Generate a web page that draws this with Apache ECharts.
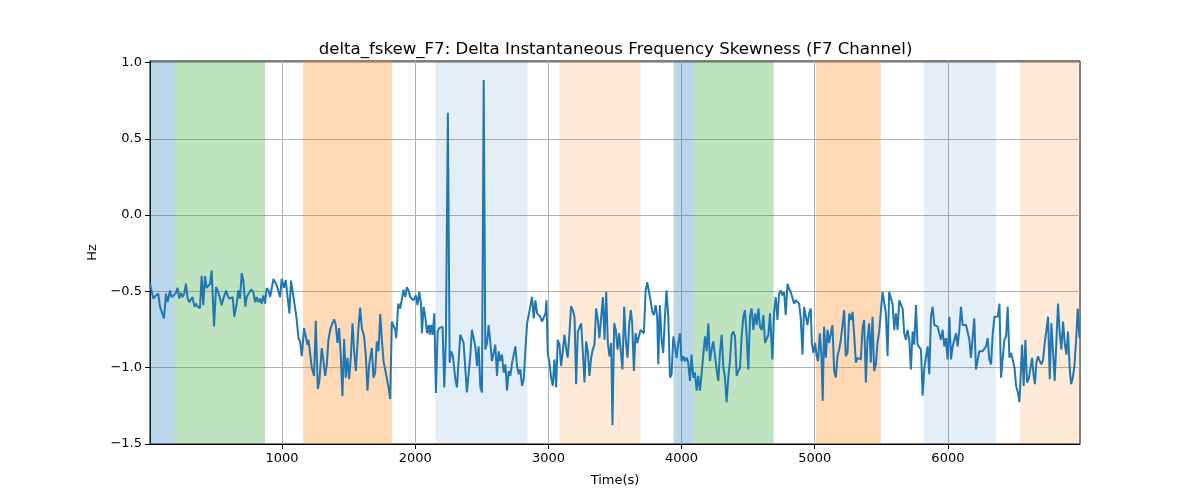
<!DOCTYPE html>
<html>
<head>
<meta charset="utf-8">
<script src="https://cdn.jsdelivr.net/npm/echarts@6/dist/echarts.min.js"></script>
<style>html,body{margin:0;padding:0;background:#fff}#c{width:1200px;height:500px}</style>
</head>
<body>
<div id="c"></div>
<script>
const times = [8,33,53,70,83,95,113,128,140,158,170,183,200,215,228,240,253,265,278,291,303,316,328,341,353,366,383,396,408,421,433,446,459,471,489,504,516,534,546,559,579,591,604,616,629,641,659,671,684,697,709,724,734,747,767,784,797,809,822,834,847,859,872,884,897,910,
935,960,985,997,1015,1027,1042,1055,1067,1077,1093,1110,1123,1135,1148,1165,1178,1190,1198,1210,1223,1240,1253,1268,1280,1298,1311,1323,1336,1348,1361,1373,1391,1403,1416,1428,1441,1453,1466,1478,1491,1503,1516,1529,1541,1554,1574,1586,1599,1616,1629,1641,1654,1674,1686,1699,1711,1724,1737,1749,1762,1774,1787,1799,1812,1824,1837,1850,
1857,1872,1887,1902,1912,1925,1937,1950,1962,1975,1987,2005,2017,2030,2043,2050,2063,2075,2088,2100,2108,2118,2130,2143,2155,2168,2180,2193,2205,2218,2230,2245,2258,2270,2283,2301,2313,2326,2338,2351,2363,2376,2388,2401,2413,2426,2439,2451,2464,2476,2489,2501,2514,2526,2539,2551,2564,2576,2589,2601,2614,2626,2639,2651,2664,2677,2689,2702,2714,2727,2739,2752,2764,2777,2789,
2802,2815,2827,2840,2852,2865,2877,2890,2902,2915,2927,2940,2952,2965,2978,2985,2995,3008,3020,3033,3045,3058,3070,3083,3095,3108,3120,3133,3145,3158,3170,3183,3196,3208,3221,3233,3246,3258,3271,3283,3296,3308,3321,3333,3346,3358,3371,3383,3396,3409,3421,3434,3446,3459,3471,3481,3494,3506,3519,3531,3544,3556,3569,3581,3594,3607,3619,3629,3642,3654,3667,3679,3692,3705,
3717,3730,3742,3755,3767,3780,3792,3805,3817,3825,3837,3850,3862,3875,3887,3900,3913,3925,3938,3950,3963,3975,3988,4000,4013,4025,4038,4050,4063,4075,4088,4100,4113,4125,4138,4150,4163,4176,4188,4201,4213,4226,4238,4251,4263,4276,4288,4301,4313,4326,4338,4351,4364,4376,4389,4401,4414,4426,4439,4451,4464,4476,4489,4501,4514,4526,4539,4552,4564,4577,4589,4602,4614,4627,4639,4652,4664,
4682,4695,4707,4720,4732,4745,4757,4770,4782,4795,4807,4820,4832,4845,4858,4870,4883,4895,4908,4920,4933,4945,4958,4970,4978,4990,5003,5015,5025,5038,5050,5060,5070,5083,5096,5108,5121,5133,5146,5158,5171,5183,5196,5208,5221,5233,5246,5259,5271,5284,5296,5309,5321,5334,5346,5359,5371,5384,5396,5409,5421,5434,5446,5459,5471,5484,5497,5509,5522,5534,5547,5559,5572,5584,5597,5609,
5622,5635,5647,5660,5672,5685,5697,5710,5722,5735,5747,5760,5772,5785,5798,5810,5823,5835,5848,5860,5873,5885,5898,5910,5923,5935,5948,5960,5973,5985,5998,6011,6023,6036,6048,6061,6073,6086,6098,6111,6123,6136,6148,6161,6173,6186,6198,6211,6224,6236,6249,6261,6274,6286,6299,6311,6324,6336,6349,6361,6374,6387,6399,6412,6424,6437,6449,6462,6474,6487,6500,6512,6525,6537,
6557,6569,6582,6594,6607,6619,6632,6644,6654,6664,6677,6690,6702,6715,6727,6740,6752,6765,6777,6790,6802,6815,6827,6840,6852,6865,6877,6890,6902,6915,6925,6938,6950,6963,6975,6988];

const values = [-0.45,-0.547,-0.526,-0.515,-0.60,-0.61,-0.677,-0.515,-0.57,-0.494,-0.537,-0.526,-0.515,-0.476,-0.547,-0.51,-0.537,-0.515,-0.45,-0.547,-0.57,-0.58,-0.537,-0.60,-0.58,-0.60,-0.61,-0.397,-0.59,-0.40,-0.476,-0.483,-0.45,-0.364,-0.73,-0.472,-0.494,-0.547,-0.59,-0.547,-0.494,-0.526,-0.547,-0.547,-0.537,-0.666,-0.58,-0.494,-0.547,-0.38,-0.43,-0.60,-0.537,-0.537,-0.487,-0.504,-0.57,-0.537,-0.57,-0.547,-0.58,-0.526,-0.58,-0.478,-0.494,-0.537,
-0.418,-0.461,-0.537,-0.418,-0.476,-0.425,-0.429,-0.644,-0.429,-0.429,-0.58,-0.687,-0.806,-0.828,-0.925,-0.741,-0.795,-0.849,-0.817,-0.806,-1.0,-1.054,-0.692,-1.14,-1.086,-0.871,-0.957,-1.054,-0.978,-0.817,-0.752,-0.72,-0.683,-0.72,-0.838,-0.741,-0.925,-1.187,-0.812,-1.065,-0.935,-1.075,-0.935,-0.709,-0.892,-1.022,-0.73,-0.606,-0.741,-0.795,-0.925,-1.151,-0.978,-0.871,-1.065,-1.032,-0.828,-0.892,-0.649,-0.817,-0.957,-1.011,-1.006,-1.129,-1.205,-0.698,-0.709,-0.752,
-0.806,-0.58,-0.612,-0.601,-0.489,-0.537,-0.472,-0.494,-0.537,-0.547,-0.558,-0.526,-0.59,-0.504,-0.58,-0.774,-0.601,-0.666,-0.774,-0.72,-0.784,-0.72,-0.784,-0.644,-1.166,-0.763,-0.741,-0.741,-0.731,-1.129,-0.817,0.67,-0.968,-0.892,-0.925,-1.075,-1.129,-1.129,-0.784,-0.774,-0.838,-0.838,-1.162,-1.172,-0.925,-0.752,-0.752,-0.86,-0.989,-0.86,-1.129,-1.162,0.886,-0.881,-0.838,-0.72,-0.838,-0.957,-0.903,-0.849,-1.054,-0.892,-0.957,-0.914,-1.032,-0.978,-1.151,-1.022,-1.054,-0.968,-0.968,-0.86,-0.989,-1.043,-1.011,
-1.119,-1.075,-0.881,-0.709,-0.655,-0.666,-0.537,-0.677,-0.558,-0.644,-0.644,-0.666,-0.698,-0.698,-0.644,-0.558,-0.903,-0.968,-1.065,-1.119,-0.946,-1.129,-0.817,-0.849,-0.989,-0.892,-0.784,-0.871,-0.935,-0.774,-0.597,-0.623,-0.666,-1.108,-0.763,-0.774,-0.709,-0.892,-1.097,-0.828,-0.892,-1.054,-0.935,-0.881,-0.849,-0.612,-0.687,-0.806,-0.795,-0.537,-0.817,-0.504,-0.838,-0.925,-0.838,-1.377,-0.709,-0.752,-0.881,-0.774,-0.774,-1.011,-0.601,-0.817,-0.935,-0.709,-0.623,-0.709,-1.022,-0.774,-0.838,-0.849,-0.752,-0.752,
-0.774,-0.494,-0.44,-0.45,-0.558,-0.634,-0.655,-0.59,-0.666,-0.978,-0.59,-0.817,-0.903,-0.666,-0.494,-0.666,-1.065,-1.043,-0.795,-0.86,-0.935,-0.838,-0.774,-0.957,-0.925,-0.957,-0.935,-0.968,-1.086,-0.914,-1.065,-1.032,-1.151,-1.054,-1.151,-1.043,-0.914,-0.795,-0.892,-0.709,-0.957,-0.881,-0.828,-0.828,-1.011,-1.086,-0.903,-0.784,-0.989,-1.065,-1.226,-1.065,-0.946,-0.784,-0.763,-0.795,-1.054,-1.022,-1.0,-0.795,-0.666,-0.623,-0.795,-1.011,-0.666,-0.612,-0.752,-0.644,-0.72,-0.612,-0.731,-0.752,-0.655,-0.838,-0.828,-0.784,-0.644,
-0.946,-0.634,-0.537,-0.687,-0.515,-0.494,-0.526,-0.504,-0.655,-0.45,-0.483,-0.504,-0.515,-0.58,-0.558,-0.547,-0.58,-0.677,-0.914,-0.601,-0.612,-0.72,-0.644,-0.612,-0.838,-0.903,-0.838,-0.925,-0.957,-0.774,-0.914,-1.216,-0.731,-0.935,-0.752,-0.838,-0.774,-0.72,-1.022,-1.065,-0.925,-0.881,-0.817,-0.806,-0.623,-0.925,-0.903,-0.644,-0.687,-0.634,-0.784,-0.968,-0.935,-0.946,-0.946,-0.741,-0.687,-1.097,-0.817,-0.709,-0.968,-0.666,-1.022,-0.978,-0.838,-0.763,-0.752,-0.504,-0.498,-0.644,-0.925,-0.504,-0.494,-0.58,-0.752,-0.644,
-0.752,-0.558,-0.547,-0.612,-0.774,-0.817,-0.752,-0.817,-1.011,-0.763,-0.849,-0.59,-0.849,-0.849,-0.881,-1.183,-1.0,-1.011,-0.86,-1.043,-0.666,-0.601,-0.72,-0.731,-0.731,-0.774,-0.817,-0.752,-0.86,-0.806,-0.946,-0.666,-0.946,-0.86,-0.849,-0.774,-0.86,-0.752,-0.601,-0.72,-0.709,-0.72,-0.709,-0.817,-0.935,-0.935,-0.677,-1.011,-0.946,-0.892,-0.903,-0.892,-0.881,-0.86,-0.806,-0.946,-0.978,-0.784,-0.666,-0.655,-0.666,-0.58,-1.065,-1.054,-0.817,-0.795,-0.601,-0.935,-0.903,-0.946,-1.0,-1.119,-1.162,-1.226,
-0.849,-1.119,-0.817,-1.097,-1.075,-1.075,-0.935,-1.054,-1.108,-0.968,-0.925,-0.957,-0.978,-0.946,-0.838,-0.752,-0.666,-1.075,-0.709,-0.709,-1.086,-1.097,-0.58,-0.774,-0.881,-0.698,-0.838,-0.914,-0.763,-1.011,-1.108,-1.065,-0.989,-0.817,-0.612,-0.806];

const xTicks = [1000,2000,3000,4000,5000,6000];
const yTicks = [-1.5,-1.0,-0.5,0.0,0.5,1.0];

const bandStart = [8,196,1158,2150,3083,3940,4090,5008,5820,6541];
const bandEnd   = [196,872,1827,2842,3692,4090,4692,5496,6361,6992];
const bandKind  = ['blue','green','orange','lightBlue','lightOrange','blue','green','orange','lightBlue','lightOrange'];

const kindColor = {
  blue: 'rgba(31,119,180,0.3)',
  green: 'rgba(44,160,44,0.3)',
  orange: 'rgba(255,127,14,0.3)',
  lightBlue: 'rgba(31,119,180,0.12)',
  lightOrange: 'rgba(255,127,14,0.16)'
};

const FONT = 'DejaVu Sans';
const chart = echarts.init(document.getElementById('c'), null, {renderer: 'canvas'});
const fmtY = v => v.toFixed(1).replace('-', '\u2212');
chart.setOption({
  animation: false,
  backgroundColor: '#fff',
  title: {
    text: 'delta_fskew_F7: Delta Instantaneous Frequency Skewness (F7 Channel)',
    left: 610.5, top: 36, textAlign: 'center',
    textStyle: {fontFamily: FONT, fontSize: 16.6, fontWeight: 'normal', color: '#000'}
  },
  grid: {left: 150, right: 120, top: 61, bottom: 56, show: true, borderColor: '#000', borderWidth: 1, backgroundColor: 'transparent'},
  xAxis: {
    type: 'value', min: 8, max: 6992,
    name: 'Time(s)', nameLocation: 'middle', nameGap: 30,
    nameTextStyle: {fontFamily: FONT, fontSize: 13, color: '#000'},
    axisLine: {show: true, onZero: false, lineStyle: {color: '#000', width: 1}},
    axisTick: {show: true, length: 5, customValues: xTicks, lineStyle: {color: '#000'}},
    axisLabel: {fontFamily: FONT, fontSize: 13, color: '#000', margin: 8, customValues: xTicks,
      formatter: v => String(v)},
    splitLine: {show: true, lineStyle: {color: '#b0b0b0', width: 1}}
  },
  yAxis: {
    type: 'value', min: -1.5, max: 1.01, interval: 0.5,
    name: 'Hz', nameLocation: 'middle', nameGap: 50,
    nameTextStyle: {fontFamily: FONT, fontSize: 13, color: '#000'},
    axisLine: {show: true, onZero: false, lineStyle: {color: '#000', width: 1}},
    axisTick: {show: true, length: 5, customValues: yTicks, lineStyle: {color: '#000'}},
    axisLabel: {fontFamily: FONT, fontSize: 13, color: '#000', margin: 8, customValues: yTicks, formatter: fmtY},
    splitLine: {show: true, lineStyle: {color: '#b0b0b0', width: 1}}
  },
  series: [{
    type: 'line',
    data: times.map((t, i) => [t, values[i]]),
    showSymbol: false,
    lineStyle: {color: '#1f77b4', width: 2},
    itemStyle: {color: '#1f77b4'},
    z: 3,
    markArea: {
      silent: true,
      data: bandStart.map((s, i) => [
        {xAxis: s, itemStyle: {color: kindColor[bandKind[i]]}},
        {xAxis: bandEnd[i]}
      ])
    }
  }]
});
</script>
</body>
</html>
